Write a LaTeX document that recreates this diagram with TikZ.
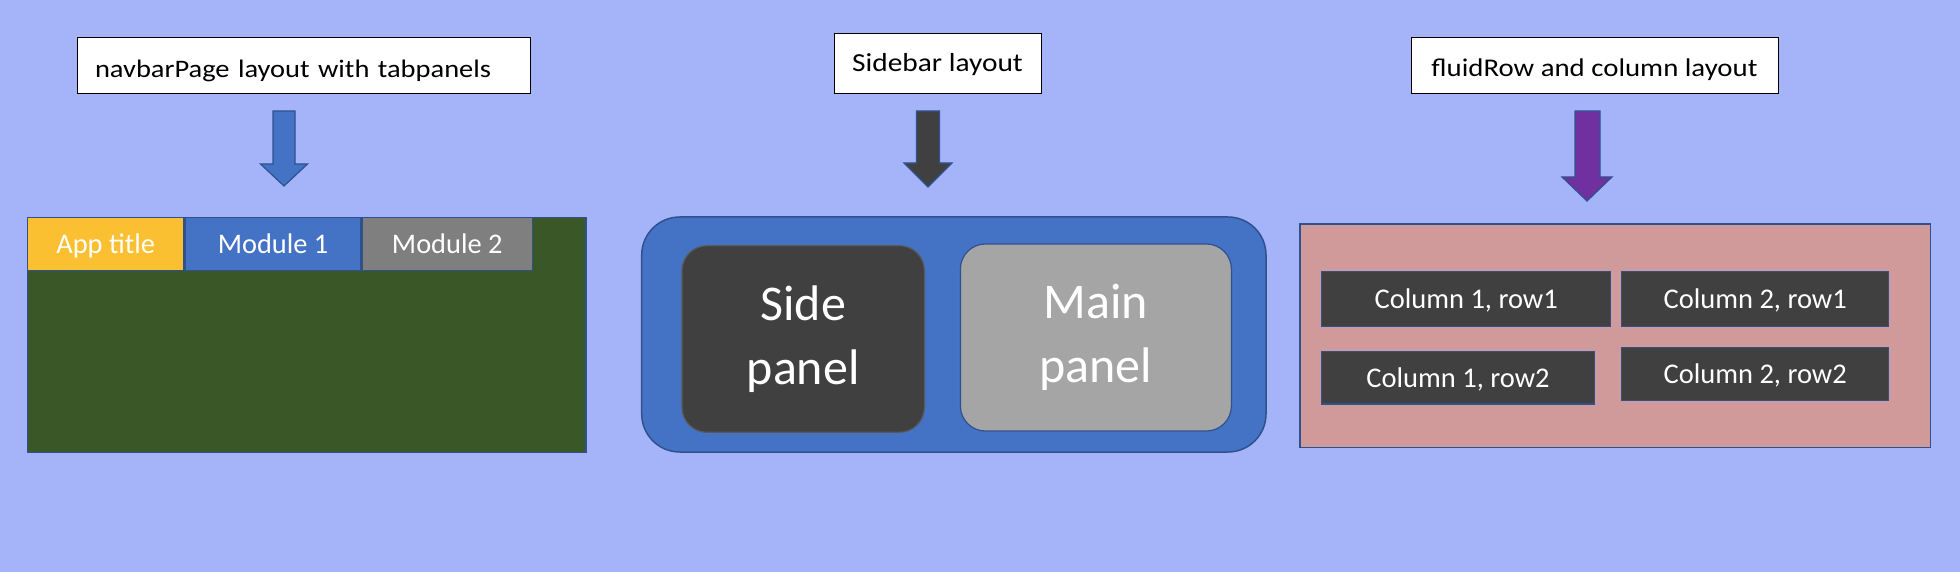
\documentclass[tikz,border=0pt]{standalone}
\usepackage{fontspec}
\setmainfont{Carlito}
\newfontfamily\widefont[FakeStretch=1.13]{Carlito}
\usetikzlibrary{positioning}
\definecolor{bgblue}{HTML}{A5B4F8}
\definecolor{navgreen}{HTML}{3A5728}
\definecolor{tabgold}{HTML}{FBBF32}
\definecolor{tabblue}{HTML}{4472C4}
\definecolor{tabgray}{HTML}{7F7F7F}
\definecolor{edgeblue}{HTML}{2F528F}
\definecolor{panelgray}{HTML}{404040}
\definecolor{sideedge}{HTML}{595959}
\definecolor{maingray}{HTML}{A5A5A5}
\definecolor{arrpurple}{HTML}{7030A0}
\definecolor{pinkbox}{HTML}{D19A9A}
\begin{document}
\begin{tikzpicture}[x=1pt, y=-1pt,
  titlebox/.style={draw=black, line width=1pt, fill=white, inner sep=0pt},
  tabbox/.style={draw=edgeblue, line width=1.2pt, inner sep=0pt, minimum height=53.3pt,
    text=white, font=\fontsize{28.4}{34}\selectfont, text height=18.3pt, text depth=0pt},
  colbox/.style={draw=edgeblue, line width=1.5pt, fill=panelgray, inner sep=0pt,
    text=white, font=\fontsize{28.5}{34}\selectfont, text height=18.4pt, text depth=0pt},
  panelbox/.style={line width=1.2pt, rounded corners=25pt, inner sep=0pt, text=white,
    align=center, font=\fontsize{50}{63.5}\selectfont},
  blockarr/.style={draw=edgeblue, line width=1.2pt}]
  \fill[bgblue] (0,0) rectangle (1960,572);
  % navbarPage
  \node[titlebox, minimum width=453pt, minimum height=56pt, text width=417pt, align=left,
    inner xsep=18pt, font=\widefont\fontsize{25.2}{30}\selectfont, text height=40pt,
    text depth=16pt] (navTitle) at (303.5,66) {navbarPage layout with tabpanels};
  \draw[blockarr, fill=tabblue] (273,111) -- (295,111) -- (295,164) -- (307.5,164) -- (284,186) -- (260.5,164) -- (273,164) -- cycle;
  \node[draw=edgeblue, line width=1.5pt, fill=navgreen, inner sep=0pt, minimum width=558.3pt,
    minimum height=234.6pt] (navBody) at (306.85,335) {};
  \node[tabbox, fill=tabgold, minimum width=156.3pt, anchor=north west] (tabApp) at (navBody.north west) {App title};
  \node[tabbox, fill=tabblue, minimum width=176pt, right=0pt of tabApp] (tabModA) {Module 1};
  \node[tabbox, fill=tabgray, minimum width=170pt, right=0pt of tabModA] (tabModB) {Module 2};
  % sidebar
  \node[titlebox, minimum width=207pt, minimum height=60pt, font=\widefont\fontsize{26}{31}\selectfont,
    text height=37.7pt, text depth=22.3pt] (sideTitle) at (937.5,64) {Sidebar layout};
  \draw[blockarr, fill=panelgray] (916.5,111) -- (939.5,111) -- (939.5,163) -- (952,163) -- (928,187) -- (904,163) -- (916.5,163) -- cycle;
  \node[draw=edgeblue, line width=1.5pt, fill=tabblue, rounded corners=38pt, inner sep=0pt,
    minimum width=624.3pt, minimum height=235pt] (sideOuter) at (953.85,334.5) {};
  \node[panelbox, draw=sideedge, fill=panelgray, minimum width=242.4pt, minimum height=186.6pt] (sidePanel) at (803.2,339) {Side\\panel};
  \node[panelbox, draw=edgeblue, fill=maingray, minimum width=271pt, minimum height=187pt] (mainPanel) at (1095.9,337.5) {Main\\panel};
  % fluidRow
  \node[titlebox, minimum width=367pt, minimum height=56pt, font=\widefont\fontsize{25.5}{30}\selectfont,
    text height=38.7pt, text depth=17.3pt] (fluidTitle) at (1594.5,66) {fluidRow and column layout};
  \draw[blockarr, fill=arrpurple] (1575,111) -- (1600,111) -- (1600,177) -- (1612,177) -- (1587,201) -- (1562,177) -- (1575,177) -- cycle;
  \node[draw=edgeblue, line width=1.5pt, fill=pinkbox, inner sep=0pt, minimum width=630.5pt,
    minimum height=223.7pt] (fluidBody) at (1615,335.85) {};
  \node[colbox, minimum width=289pt, minimum height=54.6pt] (colAA) at (1466.2,299) {Column 1, row1};
  \node[colbox, minimum width=267pt, minimum height=54.6pt] (colBA) at (1755.2,299) {Column 2, row1};
  \node[colbox, minimum width=272.6pt, minimum height=52.3pt] (colAB) at (1458,377.85) {Column 1, row2};
  \node[colbox, minimum width=267pt, minimum height=53.4pt] (colBB) at (1755.2,374) {Column 2, row2};
\end{tikzpicture}
\end{document}
